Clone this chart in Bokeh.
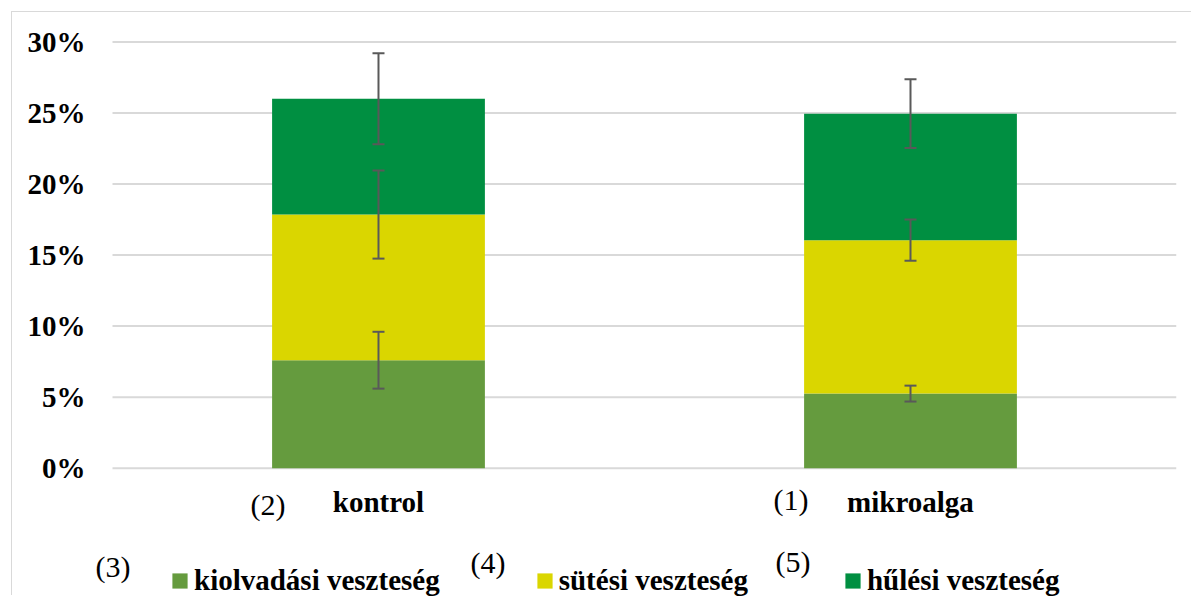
from bokeh.plotting import figure
from bokeh.models import (Range1d, FixedTicker, PrintfTickFormatter,
                          ColumnDataSource, Whisker, TeeHead, Legend, LegendItem)
from bokeh.core.properties import value
from bokeh.embed import file_html
from bokeh.resources import INLINE

# ---- data ----
categories = ["kontrol", "mikroalga"]
series_names = ["kiolvadási veszteség", "sütési veszteség", "hűlési veszteség"]
kiolvadasi = [7.6, 5.25]
sutesi = [10.25, 10.8]
hulesi = [8.15, 8.9]
err_kiolvadasi = [2.0, 0.56]
err_sutesi = [3.1, 1.45]
err_hulesi = [3.2, 2.42]
y_ticks = [0, 5, 10, 15, 20, 25, 30]
category_marks = ["(2)", "(1)"]
legend_marks = ["(3)", "(4)", "(5)"]

colors = ["#659B3E", "#DAD600", "#008F41"]
FONT = "Liberation Serif"

n = len(categories)
xpos = [i + 0.5 for i in range(n)]   # category centres on a 0..n axis

W, H = 1180, 584
p = figure(x_range=Range1d(-0.0451, n), y_range=Range1d(-9.03, 32.07),
           width=W, height=H, output_backend="svg", toolbar_location=None,
           x_axis_location=None,
           min_border_left=76, min_border_right=16, min_border_top=0, min_border_bottom=0,
           styles={"margin-left": "11px", "margin-top": "11px",
                   "border-left": "1px solid #d9d9d9", "border-top": "1px solid #d9d9d9"})
p.outline_line_color = None
p.background_fill_color = "white"
p.border_fill_color = "white"
p.xgrid.visible = False
p.ygrid.visible = False

# horizontal gridlines at the y ticks, spanning the category area
p.segment(x0=[0] * len(y_ticks), x1=[n] * len(y_ticks), y0=y_ticks, y1=y_ticks,
          line_color="#d9d9d9", line_width=2)

keys = ["kiolvadasi", "sutesi", "hulesi"]
src = ColumnDataSource(dict(x=xpos, kiolvadasi=kiolvadasi, sutesi=sutesi, hulesi=hulesi))
rends = p.vbar_stack(keys, x="x", width=0.4, color=colors, line_color=None, source=src)

# error bars at the top of each stacked segment
vals = [kiolvadasi, sutesi, hulesi]
errs = [err_kiolvadasi, err_sutesi, err_hulesi]
wb, wu, wl = [], [], []
for ci in range(n):
    cum = 0.0
    for si in range(3):
        cum += vals[si][ci]
        wb.append(xpos[ci])
        wu.append(cum + errs[si][ci])
        wl.append(cum - errs[si][ci])
wsrc = ColumnDataSource(dict(base=wb, upper=wu, lower=wl))
wk = Whisker(base="base", upper="upper", lower="lower", source=wsrc, dimension="height",
             line_color="#595959", line_width=2, level="overlay",
             upper_head=TeeHead(size=12, line_color="#595959", line_width=2),
             lower_head=TeeHead(size=12, line_color="#595959", line_width=2))
p.add_layout(wk)

# y axis
ax = p.yaxis[0]
ax.ticker = FixedTicker(ticks=y_ticks)
ax.formatter = PrintfTickFormatter(format="%d%%")
ax.axis_line_color = None
ax.major_tick_line_color = None
ax.minor_tick_line_color = None
ax.major_tick_out = 0
ax.major_label_text_font = FONT
ax.major_label_text_font_style = "bold"
ax.major_label_text_font_size = "29px"
ax.major_label_text_color = "black"
ax.major_label_standoff = 3

# category labels (below the 0% line)
p.text(x=xpos, y=[-3.12, -3.12], text=categories, y_offset=-11, text_align="center",
       text_baseline="alphabetic", text_font=value(FONT), text_font_style="bold",
       text_font_size="29px", text_color="black")
# number marks
p.text(x=xpos, y=[-3.33, -2.98], text=category_marks, x_offset=[-110.5, -119.5], y_offset=-11,
       text_align="center", text_baseline="alphabetic", text_font=value(FONT),
       text_font_size="30px", text_color="black")
p.text(x=[xpos[0], xpos[0], xpos[1]], y=[-7.69, -7.41, -7.34], text=legend_marks,
       x_offset=[-265.5, 109.5, -117.5], y_offset=-11, text_align="center",
       text_baseline="alphabetic", text_font=value(FONT), text_font_size="30px",
       text_color="black")

# legend
items = [LegendItem(label=series_names[i], renderers=[rends[i]]) for i in range(3)]
legend = Legend(items=items, orientation="horizontal", location=(82, -0.5),
                glyph_width=19, glyph_height=19, label_standoff=5, spacing=95,
                padding=0, margin=0, border_line_color=None, background_fill_alpha=0,
                label_text_font=FONT, label_text_font_style="bold",
                label_text_font_size="29px", label_text_color="black")
p.add_layout(legend, "center")

open("out.html", "w").write(file_html(p, INLINE))
